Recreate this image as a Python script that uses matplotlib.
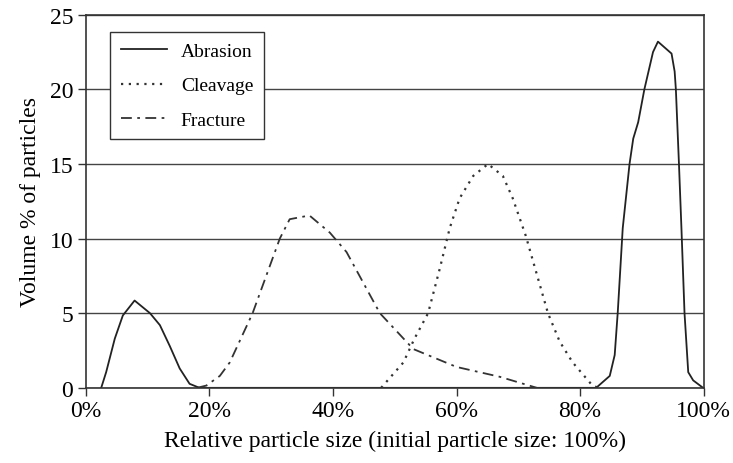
import numpy as np
import matplotlib
matplotlib.use("Agg")
import matplotlib.pyplot as plt
from matplotlib.ticker import FuncFormatter

plt.rcParams['font.family'] = ['Liberation Serif', 'DejaVu Serif']

# Abrasion (solid)
abr_x = [2.5, 3.3, 4.7, 6.0, 7.9, 10.4, 12.0, 13.6, 15.2, 16.8, 18.4,
         82.6, 84.8, 85.6, 86.1, 86.9, 88.0, 88.6, 89.4, 90.4, 91.8, 92.6,
         94.8, 95.3, 95.5, 96.0, 96.4, 96.9, 97.5, 98.3, 99.9]
abr_y = [0, 1.05, 3.3, 4.85, 5.85, 5.0, 4.2, 2.8, 1.3, 0.27, 0,
         0, 0.8, 2.2, 5.1, 10.7, 15.0, 16.7, 17.8, 20.0, 22.5, 23.2,
         22.4, 21.2, 20.0, 15.0, 10.7, 5.0, 1.05, 0.5, 0]

# Cleavage (dotted)
clv_x = [47.8, 51.4, 53.2, 55.4, 57.3, 58.9, 60.5, 62.7, 65.1, 67.5, 69.1,
         71.2, 74.8, 76.7, 78.8, 82.0, 83.0]
clv_y = [0, 1.7, 3.3, 5.0, 8.0, 10.7, 12.7, 14.2, 15.0, 14.2, 12.7,
         10.2, 5.0, 3.1, 1.7, 0.15, 0]

# Fracture (dash-dot)
frc_x = [18.0, 19.5, 21.7, 23.3, 27.0, 31.4, 33.0, 36.2, 39.5, 42.2, 47.6,
         53.0, 60.0, 67.0, 73.0]
frc_y = [0, 0.15, 0.8, 1.7, 5.0, 10.0, 11.3, 11.55, 10.4, 9.1, 5.0,
         2.6, 1.4, 0.74, 0]

fig = plt.figure(figsize=(7.33, 4.64), dpi=100)
ax = fig.add_axes([0.117, 0.162, 0.843, 0.804])

ax.plot(abr_x, abr_y, color='#222222', lw=1.3, label='Abrasion')
ax.plot(clv_x, clv_y, color='#333333', lw=1.6, linestyle=(0, (1, 2.5)), label='Cleavage')
ax.plot(frc_x, frc_y, color='#333333', lw=1.3, linestyle=(0, (6, 3, 1.5, 3)), label='Fracture')

ax.set_xlim(0, 100)
ax.set_ylim(0, 25)
ax.set_xticks([0, 20, 40, 60, 80, 100])
ax.set_yticks([0, 5, 10, 15, 20, 25])
ax.xaxis.set_major_formatter(FuncFormatter(lambda v, p: f"{int(v)}%"))
ax.grid(axis='y', color='#444444', lw=1.0)
ax.set_axisbelow(True)

for s in ax.spines.values():
    s.set_color('#333333')
    s.set_linewidth(1.2)
ax.tick_params(axis='both', labelsize=17, color='#333333', length=6, width=1.0, pad=3)

ax.set_xlabel("Relative particle size (initial particle size: 100%)", fontsize=17, labelpad=6)
ax.set_ylabel("Volume % of particles", fontsize=17, labelpad=6)

leg = ax.legend(loc='upper left', bbox_to_anchor=(0.039, 0.954), borderaxespad=0,
                fontsize=14, frameon=True, fancybox=False, edgecolor='#333333',
                framealpha=1, handlelength=2.4, handletextpad=0.7, borderpad=0.55,
                labelspacing=0.85)
leg.get_frame().set_linewidth(1.0)

fig.savefig("out.png", dpi=100)
